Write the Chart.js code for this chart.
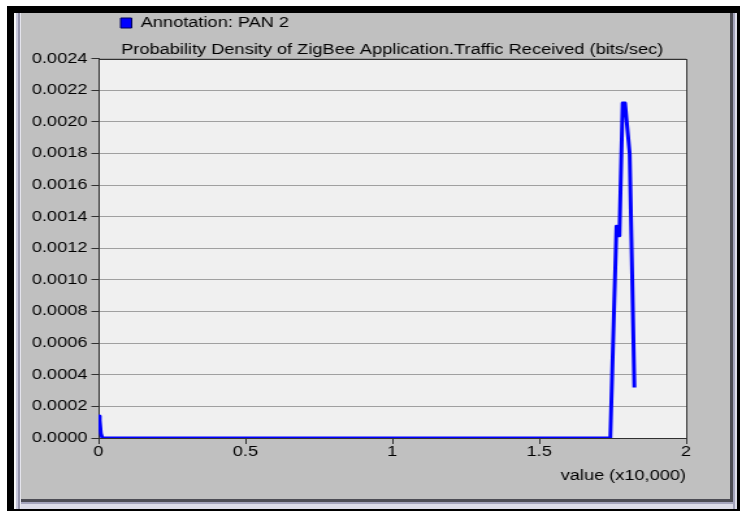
<!DOCTYPE html>
<html>
<head>
<meta charset="utf-8">
<title>Probability Density of ZigBee Application.Traffic Received</title>
<script src="https://cdn.jsdelivr.net/npm/chart.js@4.4.1/dist/chart.umd.min.js"></script>
<style>
  html, body { margin: 0; padding: 0; background: #ffffff; width: 740px; height: 511px; overflow: hidden; }
  #frame { position: absolute; left: 7px; top: 6px; width: 733px; height: 505px; background: #000000; }
  #panel { position: absolute; left: 14px; top: 13px; width: 723px; height: 496px; background: #c0c0c0; }
  .edge { position: absolute; }
  /* the plot is laid out narrow and widened horizontally, giving the wide glyphs of the window */
  #stage { position: absolute; left: 14px; top: 13px; width: 553px; height: 487px;
           transform: scaleX(1.3); transform-origin: 0 0; }
</style>
</head>
<body>
<div id="frame"></div>
<div id="panel">
  <div class="edge" style="left:0;top:0;width:2px;height:496px;background:#f6f6f6"></div>
  <div class="edge" style="left:2px;top:0;width:2px;height:496px;background:#c8c8dc"></div>
  <div class="edge" style="left:4px;top:0;width:2px;height:496px;background:#9494ac"></div>
  <div class="edge" style="left:6px;top:0;width:1px;height:496px;background:#e4e4ec"></div>
  <div class="edge" style="left:716px;top:0;width:3px;height:489px;background:#4c4c54"></div>
  <div class="edge" style="left:719px;top:0;width:2px;height:496px;background:#a4a4bc"></div>
  <div class="edge" style="left:721px;top:0;width:2px;height:496px;background:#dcdce8"></div>
  <div class="edge" style="left:7px;top:486px;width:712px;height:3px;background:#4c4c54"></div>
  <div class="edge" style="left:7px;top:489px;width:712px;height:2px;background:#a4a4bc"></div>
  <div class="edge" style="left:7px;top:491px;width:712px;height:5px;background:#dcdce8"></div>
</div>
<div id="stage"><canvas id="c" width="553" height="487"></canvas></div>

<script>
// Traffic received, in units of 10,000 bits/sec, and its probability density
const xValues       = [0, 0.004, 0.008, 0.013, 1.742, 1.763, 1.773, 1.784, 1.792, 1.808, 1.824];
const densityValues = [0.00014, 0.00011, 0.00003, 0, 0, 0.00134, 0.00128, 0.00212, 0.00212, 0.00180, 0.00032];

const xTickLabels = ['0', '0.5', '1', '1.5', '2'];
const yTickLabels = ['0.0000', '0.0002', '0.0004', '0.0006', '0.0008', '0.0010', '0.0012',
                     '0.0014', '0.0016', '0.0018', '0.0020', '0.0022', '0.0024'];

const seriesName = 'Annotation: PAN 2';
const chartTitle = 'Probability Density of ZigBee Application.Traffic Received (bits/sec)';
const xAxisTitle = 'value (x10,000)';

const LEGEND_BOX_X = 82;   // left edge of the legend swatch, in canvas pixels

// light plot background under the grid, dark frame around the plot box
const plotFrame = {
  id: 'plotFrame',
  beforeDraw(chart) {
    const { ctx, chartArea: a } = chart;
    ctx.save();
    ctx.fillStyle = '#f0f0f0';
    ctx.fillRect(a.left, a.top, a.right - a.left, a.bottom - a.top);
    ctx.restore();
  },
  beforeDatasetsDraw(chart) {
    const { ctx, chartArea: a } = chart;
    ctx.save();
    ctx.strokeStyle = '#303030';
    ctx.lineWidth = 1;
    ctx.strokeRect(Math.round(a.left) + 0.5, Math.round(a.top) + 0.5,
                   Math.round(a.right - a.left), Math.round(a.bottom - a.top));
    ctx.restore();
  }
};

// slide the legend to the right so it sits over the plot
const legendOffset = {
  id: 'legendOffset',
  afterLayout(chart) {
    const lg = chart.legend;
    if (!lg) return;
    const dx = LEGEND_BOX_X - (lg.left + lg.options.labels.padding);
    lg.left += dx;
    lg.right += dx;
  }
};

Chart.defaults.font.family = "'Liberation Sans', Arial, Helvetica, sans-serif";
Chart.defaults.font.size = 14;
Chart.defaults.color = '#000000';

new Chart(document.getElementById('c'), {
  type: 'line',
  data: {
    datasets: [{
      label: seriesName,
      data: xValues.map((x, i) => ({ x: x, y: densityValues[i] })),
      borderColor: '#0000ff',
      backgroundColor: '#0000ff',
      borderWidth: 3,
      pointRadius: 0,
      tension: 0,
      fill: false,
      borderJoinStyle: 'round'
    }]
  },
  options: {
    responsive: false,
    animation: false,
    devicePixelRatio: 1,
    layout: { padding: { left: 0, right: 36, top: 0, bottom: 0 } },
    plugins: {
      legend: {
        position: 'top',
        align: 'start',
        weight: 3000,
        labels: {
          padding: 3,
          boxWidth: 8.5,
          boxHeight: 10,
          color: '#000000',
          font: { size: 14 },
          generateLabels: () => [{
            text: seriesName,
            fillStyle: '#0000ff',
            strokeStyle: '#00005a',
            lineWidth: 1,
            hidden: false,
            datasetIndex: 0
          }]
        }
      },
      title: {
        display: true,
        text: chartTitle,
        fullSize: false,
        color: '#000000',
        font: { size: 14, weight: 'normal' },
        padding: { top: 2, bottom: 0 }
      },
      tooltip: { enabled: false }
    },
    scales: {
      x: {
        type: 'linear',
        min: 0,
        max: 2,
        afterBuildTicks: s => { s.ticks = xTickLabels.map(t => ({ value: parseFloat(t) })); },
        afterFit: s => { s.height = 62; },
        ticks: {
          callback: (v, i) => xTickLabels[i],
          autoSkip: false,
          maxRotation: 0,
          padding: 0,
          color: '#000000'
        },
        grid: { drawOnChartArea: false, tickLength: 6, color: '#303030', tickColor: '#303030' },
        border: { color: '#303030' },
        title: {
          display: true,
          text: xAxisTitle,
          align: 'end',
          color: '#000000',
          font: { size: 14 },
          padding: { top: 0, bottom: 15 }
        }
      },
      y: {
        min: 0,
        max: 0.0024,
        afterBuildTicks: s => { s.ticks = yTickLabels.map(t => ({ value: parseFloat(t) })); },
        afterFit: s => { s.width = 65; },
        ticks: {
          callback: (v, i) => yTickLabels[i],
          padding: 3,
          color: '#000000'
        },
        grid: { color: '#a0a0a0', tickLength: 5.5, tickColor: '#303030' },
        border: { color: '#303030' }
      }
    }
  },
  plugins: [plotFrame, legendOffset]
});
</script>
</body>
</html>
